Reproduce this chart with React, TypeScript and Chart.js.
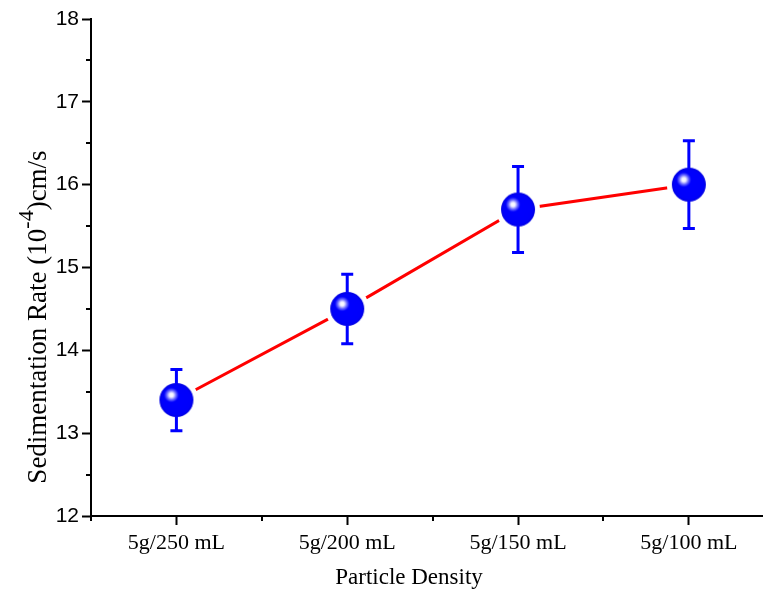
import React, { useEffect, useRef } from "react";
import { Chart, registerables } from "chart.js";

Chart.register(...registerables);

const categories = ["5g/250 mL", "5g/200 mL", "5g/150 mL", "5g/100 mL"];
const rates = [13.4, 14.5, 15.7, 16.0];
const errors = [0.37, 0.42, 0.52, 0.53];
const yTicks = [12, 13, 14, 15, 16, 17, 18];
const yMinorTicks = [12.5, 13.5, 14.5, 15.5, 16.5, 17.5];
const xMinorTicks = [-0.5, 0.5, 1.5, 2.5];
const yTitleParts = ["Sedimentation Rate (10", "-4", ")cm/s"];
const xTitle = "Particle Density";

const SPHERE_R = 17;

function makeSphere(): HTMLCanvasElement {
  const size = SPHERE_R * 2 + 2;
  const c = document.createElement("canvas");
  c.width = size;
  c.height = size;
  const g = c.getContext("2d")!;
  const cx = size / 2;
  const cy = size / 2;
  g.beginPath();
  g.arc(cx, cy, SPHERE_R, 0, Math.PI * 2);
  const base = g.createRadialGradient(cx, cy, 0, cx, cy, SPHERE_R);
  base.addColorStop(0, "#0000ff");
  base.addColorStop(0.85, "#0000fb");
  base.addColorStop(1, "#0000e0");
  g.fillStyle = base;
  g.fill();
  const hx = cx - 5;
  const hy = cy - 5;
  const hl = g.createRadialGradient(hx, hy, 0, hx, hy, 8);
  hl.addColorStop(0, "rgba(255,255,255,1)");
  hl.addColorStop(0.25, "rgba(240,240,255,1)");
  hl.addColorStop(0.45, "rgba(170,170,255,0.95)");
  hl.addColorStop(0.75, "rgba(90,90,255,0.6)");
  hl.addColorStop(1, "rgba(0,0,255,0)");
  g.beginPath();
  g.arc(cx, cy, SPHERE_R, 0, Math.PI * 2);
  g.fillStyle = hl;
  g.fill();
  return c;
}

const decorPlugin = {
  id: "decor",
  afterDatasetsDraw(chart: any) {
    const ctx = chart.ctx;
    const xs = chart.scales.x;
    const ys = chart.scales.y;
    ctx.save();
    ctx.strokeStyle = "#0000ff";
    ctx.lineWidth = 3;
    rates.forEach((v, i) => {
      const x = xs.getPixelForValue(i);
      const yc = ys.getPixelForValue(v);
      const yt = ys.getPixelForValue(v + errors[i]);
      const yb = ys.getPixelForValue(v - errors[i]);
      ctx.beginPath();
      ctx.moveTo(x, yt);
      ctx.lineTo(x, yc - SPHERE_R + 1);
      ctx.moveTo(x, yc + SPHERE_R - 1);
      ctx.lineTo(x, yb);
      ctx.moveTo(x - 6, yt);
      ctx.lineTo(x + 6, yt);
      ctx.moveTo(x - 6, yb);
      ctx.lineTo(x + 6, yb);
      ctx.stroke();
    });
    ctx.restore();
  },
  afterDraw(chart: any) {
    const ctx = chart.ctx;
    const xs = chart.scales.x;
    const ys = chart.scales.y;
    const area = chart.chartArea;
    ctx.save();
    ctx.strokeStyle = "#000";
    ctx.lineWidth = 2;
    ctx.beginPath();
    yMinorTicks.forEach((v) => {
      const y = Math.round(ys.getPixelForValue(v));
      ctx.moveTo(area.left, y);
      ctx.lineTo(area.left - 5, y);
    });
    xMinorTicks.forEach((v) => {
      const x = Math.round(xs.getPixelForValue(v));
      ctx.moveTo(x, area.bottom);
      ctx.lineTo(x, area.bottom + 5);
    });
    ctx.stroke();

    // x title
    ctx.fillStyle = "#000";
    ctx.font = "23px 'Liberation Serif'";
    ctx.textAlign = "center";
    ctx.textBaseline = "alphabetic";
    ctx.fillText(xTitle, 409, 584);

    // y title with superscript
    ctx.translate(46, 0);
    ctx.rotate(-Math.PI / 2);
    const mainFont = "27px 'Liberation Serif'";
    const supFont = "22px 'Liberation Serif'";
    ctx.font = mainFont;
    const w0 = ctx.measureText(yTitleParts[0]).width;
    const w2 = ctx.measureText(yTitleParts[2]).width;
    ctx.font = supFont;
    const w1 = ctx.measureText(yTitleParts[1]).width;
    const total = w0 + w1 + w2;
    const centerY = 317;
    let pos = -centerY - total / 2;
    ctx.textAlign = "left";
    ctx.font = mainFont;
    ctx.fillText(yTitleParts[0], pos, 0);
    pos += w0;
    ctx.font = supFont;
    ctx.fillText(yTitleParts[1], pos, -13);
    pos += w1;
    ctx.font = mainFont;
    ctx.fillText(yTitleParts[2], pos, 0);
    ctx.restore();
  },
};

export default function App() {
  const ref = useRef<HTMLCanvasElement | null>(null);
  useEffect(() => {
    if (!ref.current) return;
    const sphere = makeSphere();
    const points = rates.map((v, i) => ({ x: i, y: v }));
    const chart = new Chart(ref.current, {
      type: "line",
      data: {
        datasets: [
          {
            data: points,
            borderColor: "#ff0000",
            borderWidth: 3,
            pointRadius: 22,
            pointHoverRadius: 22,
            pointBackgroundColor: "#ffffff",
            pointBorderWidth: 0,
            pointBorderColor: "#ffffff",
            order: 2,
          },
          {
            data: points,
            showLine: false,
            pointStyle: sphere as any,
            pointRadius: SPHERE_R,
            order: 1,
          },
        ],
      },
      options: {
        animation: false,
        responsive: false,
        events: [],
        layout: { autoPadding: false, padding: { top: 19, left: 0, right: 0, bottom: 0 } },
        plugins: {
          legend: { display: false },
          tooltip: { enabled: false },
        },
        scales: {
          x: {
            type: "linear",
            min: -0.5,
            max: 3.434,
            afterBuildTicks: (scale: any) => {
              scale.ticks = categories.map((_, i) => ({ value: i }));
            },
            afterFit: (scale: any) => {
              scale.height = 74;
            },
            grid: {
              display: true,
              drawOnChartArea: false,
              drawTicks: true,
              tickLength: 9,
              tickWidth: 2,
              tickColor: "#000",
            },
            border: { display: true, color: "#000", width: 2 },
            ticks: {
              maxRotation: 0,
              autoSkip: false,
              padding: 5,
              color: "#000",
              font: { family: "'Liberation Serif'", size: 22 },
              callback: (v: any) => categories[Math.round(Number(v))] ?? "",
            },
          },
          y: {
            type: "linear",
            min: 12,
            max: 18,
            afterBuildTicks: (scale: any) => {
              scale.ticks = yTicks.map((v) => ({ value: v }));
            },
            afterFit: (scale: any) => {
              scale.width = 91;
            },
            grid: {
              display: true,
              drawOnChartArea: false,
              drawTicks: true,
              tickLength: 9,
              tickWidth: 2,
              tickColor: "#000",
            },
            border: { display: true, color: "#000", width: 2 },
            ticks: {
              padding: 3,
              color: "#000",
              font: { family: "'Liberation Sans'", size: 21 },
            },
          },
        },
      },
      plugins: [decorPlugin],
    });
    return () => chart.destroy();
  }, []);
  return (
    <div style={{ position: "absolute", left: 0, top: 0, width: 763, height: 590 }}>
      <canvas ref={ref} width={763} height={590} />
    </div>
  );
}
